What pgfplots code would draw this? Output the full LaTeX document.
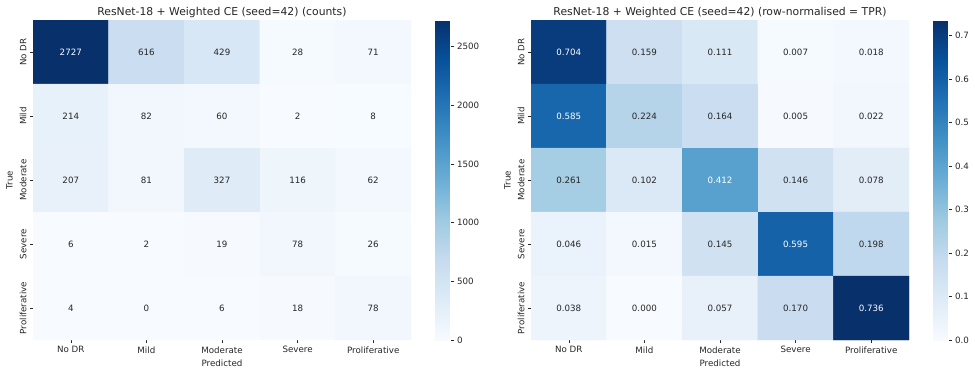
\documentclass[border=0pt]{standalone}
\usepackage{fontspec}
\setmainfont{DejaVu Sans}
\usepackage{pgfplots}
\pgfplotsset{compat=1.18}
\usepackage{pgfplotstable}

\pgfplotstableread{
x y v
0 0 2727
1 0 616
2 0 429
3 0 28
4 0 71
0 1 214
1 1 82
2 1 60
3 1 2
4 1 8
0 2 207
1 2 81
2 2 327
3 2 116
4 2 62
0 3 6
1 3 2
2 3 19
3 3 78
4 3 26
0 4 4
1 4 0
2 4 6
3 4 18
4 4 78
}\countsdata

\pgfplotstableread{
x y v
0 0 0.704
1 0 0.159
2 0 0.111
3 0 0.007
4 0 0.018
0 1 0.585
1 1 0.224
2 1 0.164
3 1 0.005
4 1 0.022
0 2 0.261
1 2 0.102
2 2 0.412
3 2 0.146
4 2 0.078
0 3 0.046
1 3 0.015
2 3 0.145
3 3 0.595
4 3 0.198
0 4 0.038
1 4 0.000
2 4 0.057
3 4 0.170
4 4 0.736
}\normdata

\definecolor{txt}{HTML}{262626}
\newcommand{\tickfont}{\fontsize{8.7}{10}\selectfont}
\newcommand{\titlefont}{\fontsize{10.8}{12}\selectfont}

\pgfplotsset{
  colormap={blues}{rgb255=(247,251,255) rgb255=(222,235,247) rgb255=(198,219,239) rgb255=(158,202,225) rgb255=(107,174,214) rgb255=(66,146,198) rgb255=(33,113,181) rgb255=(8,81,156) rgb255=(8,48,107)},
  hm/.style={
    scale only axis, width=378pt, height=320pt,
    xmin=-0.5, xmax=4.5, ymin=-0.5, ymax=4.5, y dir=reverse,
    xtick={0,...,4}, ytick={0,...,4},
    xticklabels={No DR, Mild, Moderate, Severe, Proliferative},
    yticklabels={No DR, Mild, Moderate, Severe, Proliferative},
    axis line style={draw=none},
    tick pos=left, tick align=outside, major tick length=3pt,
    tick style={color=txt, line width=0.6pt},
    ticklabel style={font=\tickfont, text=txt},
    yticklabel style={rotate=90, anchor=south},
    xlabel=Predicted, ylabel=True,
    label style={font=\tickfont, text=txt},
    title style={font=\titlefont, text=txt, yshift=-7pt},
    colormap name=blues,
    /pgf/number format/assume math mode=true,
    /pgf/number format/1000 sep={},
  },
  ann/.style={draw=none, mark=none, point meta=explicit,
    nodes near coords={\pgfmathprintnumber[#1]{\pgfplotspointmeta}},
    every node near coord/.append style={font=\tickfont, anchor=center}},
  cb/.style={
    at={(parent axis.north east)}, anchor=north west, xshift=15.5pt,
    scale only axis, width=15.5pt, height=320pt,
    axis line style={draw=none},
    ytick pos=right, yticklabel pos=right, tick align=outside,
    major tick length=3pt, tick style={color=txt, line width=0.6pt},
    yticklabel style={font=\tickfont, text=txt},
    /pgf/number format/assume math mode=true,
    /pgf/number format/1000 sep={},
  },
}

\begin{document}
\begin{tikzpicture}
\useasboundingbox (0,0) rectangle (975pt,373pt);
\begin{axis}[hm, at={(33pt,33pt)}, anchor=south west,
  title={ResNet-18 + Weighted CE (seed=42) (counts)},
  point meta min=0, point meta max=2727,
  colorbar, colorbar style={cb, ytick={0,500,...,2500}}]
\addplot[matrix plot*, mesh/cols=5, point meta=explicit] table[x=x, y=y, meta=v]{\countsdata};
\addplot[ann={fixed,precision=0}, restrict expr to domain={\thisrow{v}}{-1:1300},
  every node near coord/.append style={text=txt}]
  table[x=x, y=y, meta=v]{\countsdata};
\addplot[ann={fixed,precision=0}, restrict expr to domain={\thisrow{v}}{1300:100000},
  every node near coord/.append style={text=white}]
  table[x=x, y=y, meta=v]{\countsdata};
\end{axis}
\begin{axis}[hm, at={(531pt,33pt)}, anchor=south west,
  title={ResNet-18 + Weighted CE (seed=42) (row-normalised = TPR)},
  point meta min=0, point meta max=0.736,
  colorbar, colorbar style={cb, ytick={0,0.1,...,0.7},
    yticklabel style={/pgf/number format/.cd, fixed, fixed zerofill, precision=1}}]
\addplot[matrix plot*, mesh/cols=5, point meta=explicit] table[x=x, y=y, meta=v]{\normdata};
\addplot[ann={fixed,fixed zerofill,precision=3}, restrict expr to domain={\thisrow{v}}{-1:0.33},
  every node near coord/.append style={text=txt}]
  table[x=x, y=y, meta=v]{\normdata};
\addplot[ann={fixed,fixed zerofill,precision=3}, restrict expr to domain={\thisrow{v}}{0.33:10},
  every node near coord/.append style={text=white}]
  table[x=x, y=y, meta=v]{\normdata};
\end{axis}
\end{tikzpicture}
\end{document}
